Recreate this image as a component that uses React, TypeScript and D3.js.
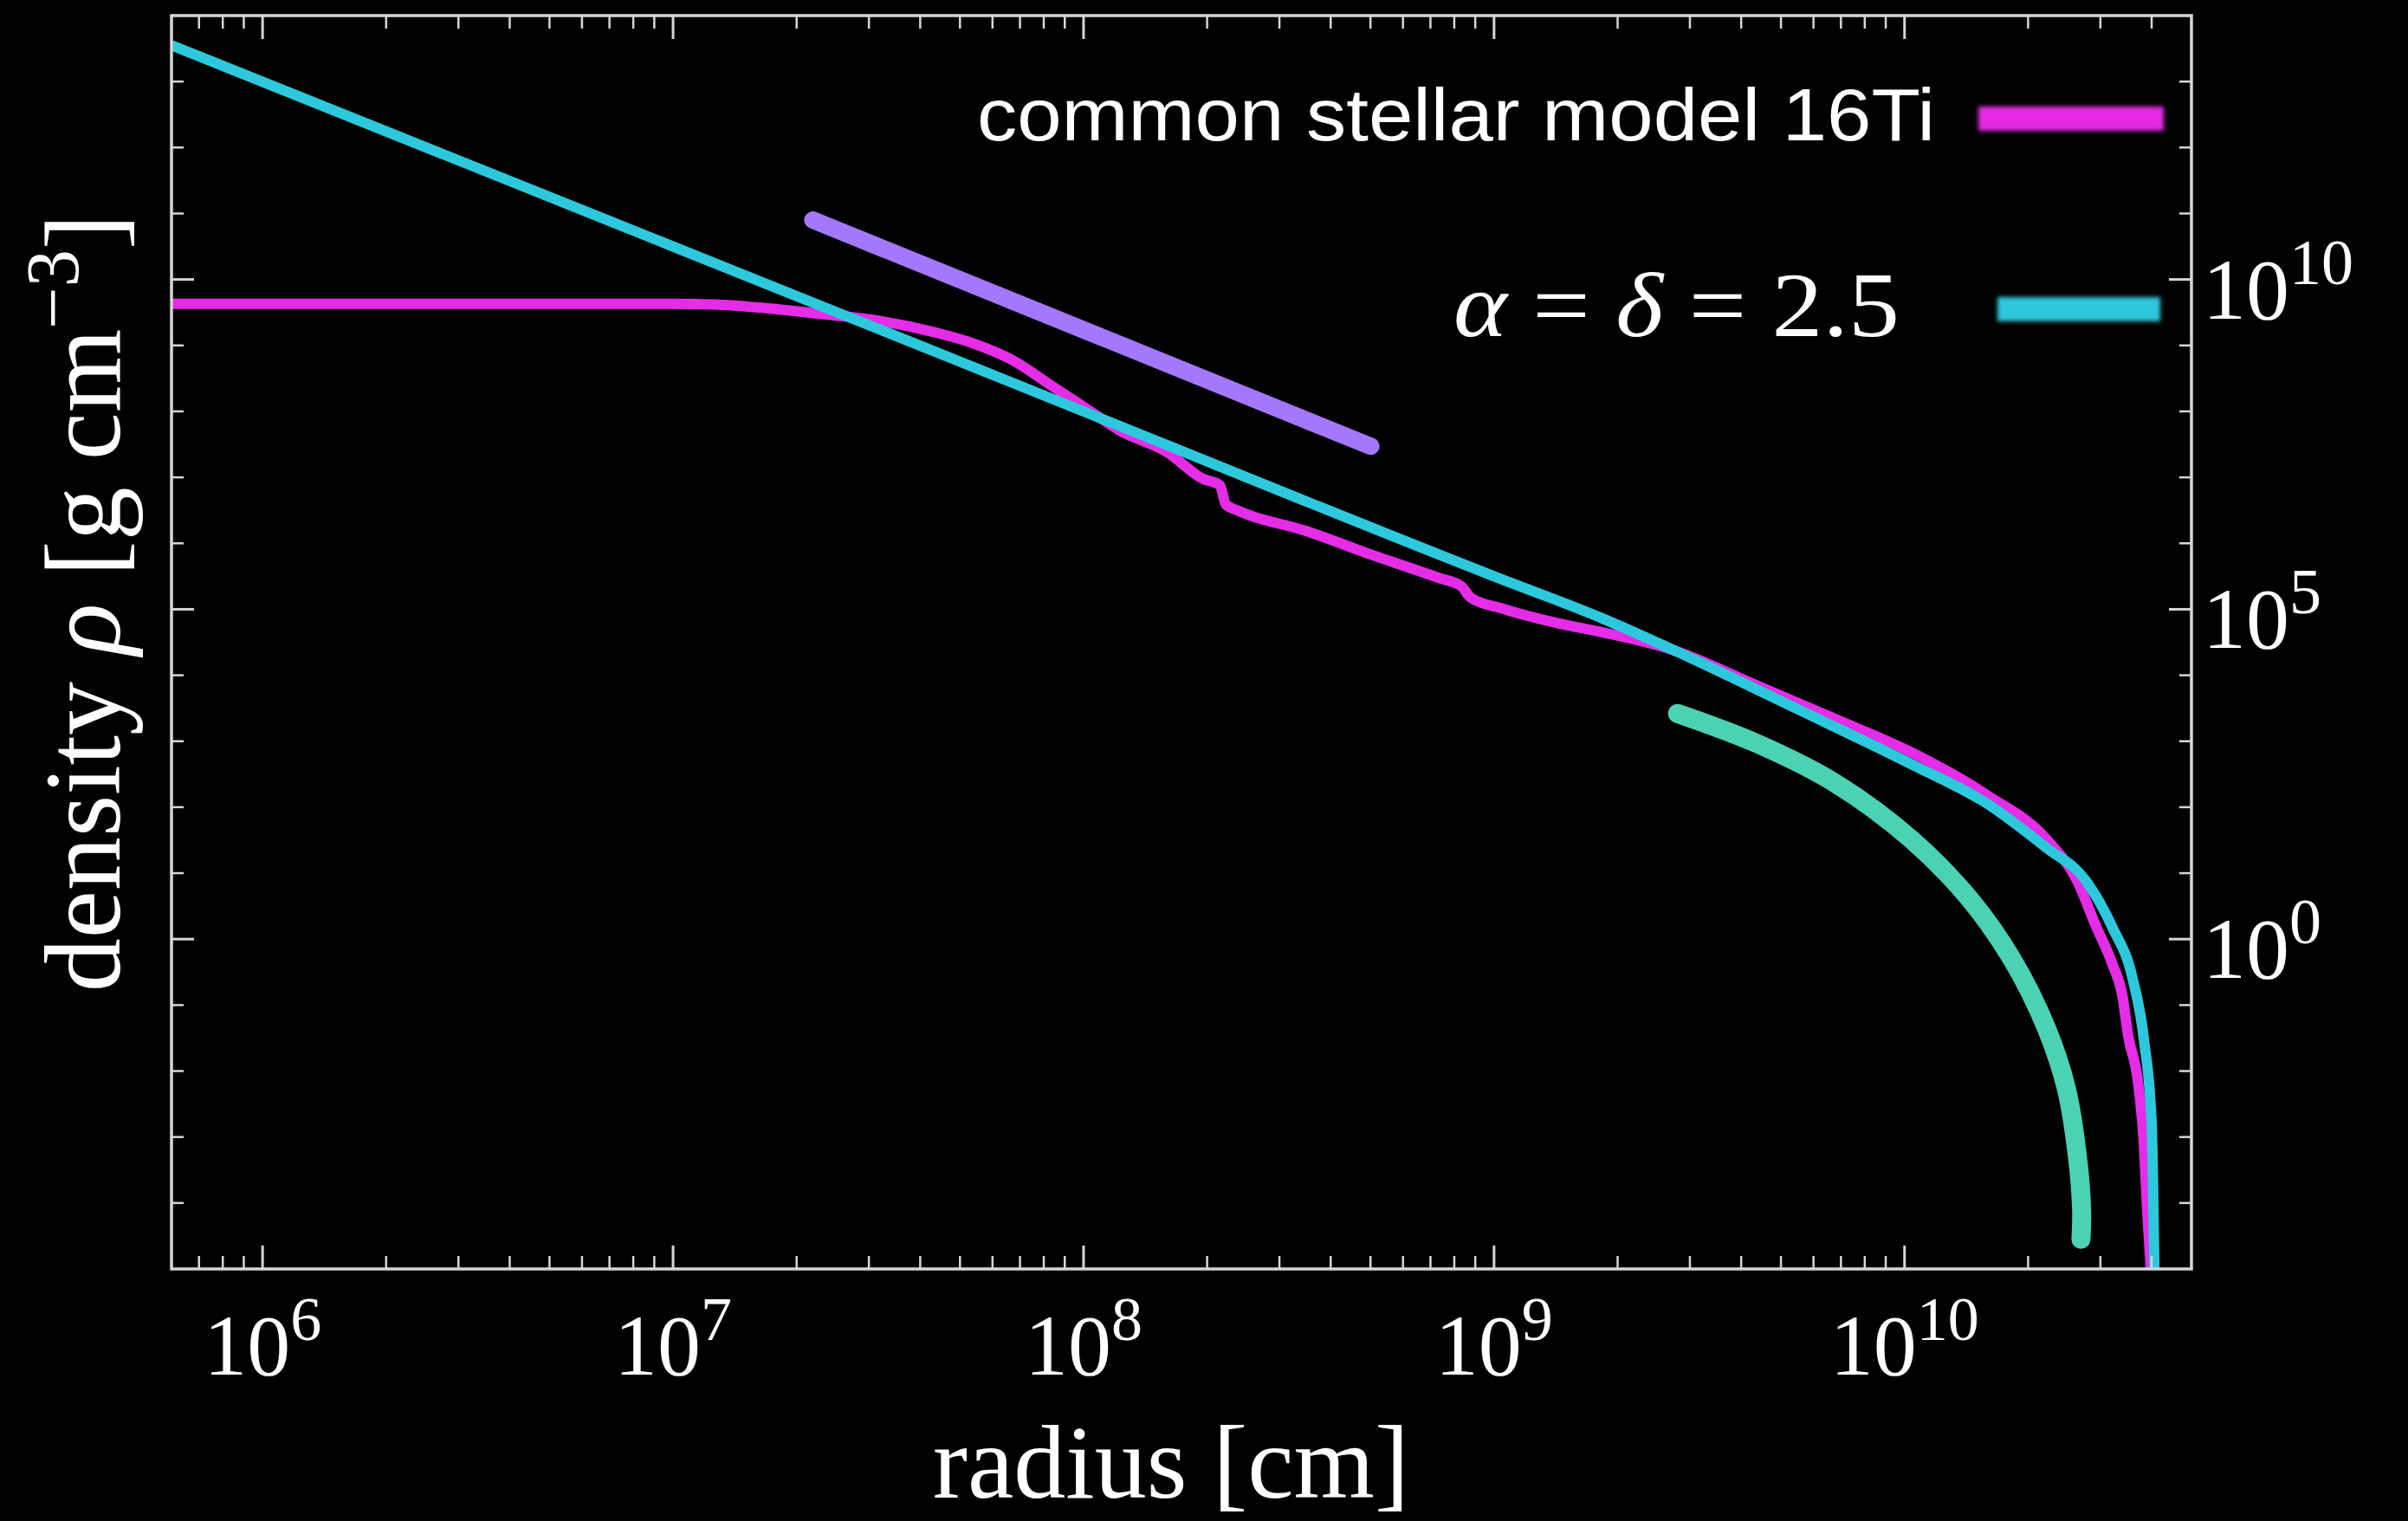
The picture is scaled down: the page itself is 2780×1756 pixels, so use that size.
import React from 'react';
import * as d3 from 'd3';

const W = 2780;
const H = 1756;
const M = { left: 198, right: 2530, top: 18, bottom: 1465 };

// axis domains: radius [cm], density [g cm^-3]
const xDomain = [6e5, 5e10];
const yDomain = [1e-5, 1e14];
const xLabelExps = [6, 7, 8, 9, 10];
const yLabelExps = [0, 5, 10];
const yTickExps = d3.range(-4, 14);

// common stellar model 16Ti
const modelRadius = [6e5, 3.16e6, 1e7, 1.26e7, 1.64e7, 2.27e7, 3.13e7, 4.34e7, 5.4e7, 6.71e7, 8.32e7, 1.04e8, 1.22e8, 1.6e8, 1.95e8, 2.15e8, 2.22e8, 2.39e8, 3.47e8, 5.01e8, 7.3e8, 8.32e8, 8.77e8, 1.05e9, 1.45e9, 1.84e9, 2.71e9, 4.39e9, 6.76e9, 1.04e10, 1.6e10, 2.22e10, 2.64e10, 2.92e10, 3.21e10, 3.39e10, 3.51e10, 3.7e10, 3.83e10, 3.9e10, 3.98e10];
const modelDensity = [4.27e9, 4.27e9, 4.27e9, 4.17e9, 3.72e9, 3.02e9, 2.4e9, 1.58e9, 1.07e9, 6.0e8, 2.5e8, 1.0e8, 5.2e7, 2.4e7, 9.55e6, 7.59e6, 3.89e6, 3.09e6, 1.55e6, 6.76e5, 3.02e5, 2.24e5, 1.51e5, 1.02e5, 6.03e4, 4.47e4, 2.45e4, 6.92e3, 2.19e3, 676, 148, 32.4, 7.41, 1.62, 0.417, 0.145, 0.033, 7.2e-3, 7.6e-4, 7.8e-5, 1e-5];

// fitted profile, alpha = delta = 2.5
const fitRadius = [6e5, 1e7, 1e8, 1e9, 1.84e9, 2.83e9, 5.43e9, 1.04e10, 1.6e10, 2.22e10, 2.76e10, 3.21e10, 3.59e10, 3.83e10, 4.0e10, 4.04e10, 4.06e10];
const fitDensity = [3.55e13, 3.16e10, 1e8, 3.16e5, 7.24e4, 2.19e4, 3.16e3, 447, 110, 24, 7.8, 1.5, 0.26, 0.03, 1.58e-3, 7.76e-5, 1e-5];

// hand-drawn guides
const slopeRadius = [2.19e7, 5.01e8];
const slopeDensity = [7.94e10, 2.95e7];
const cutoffRadius = [2.8e9, 4.39e9, 6.76e9, 1.04e10, 1.44e10, 1.83e10, 2.22e10, 2.48e10, 2.64e10, 2.7e10, 2.69e10];
const cutoffDensity = [2.63e3, 912, 234, 32.4, 4.07, 0.49, 0.0437, 5.37e-3, 4.79e-4, 7.76e-5, 2.82e-5];

const C = {
  model: '#e52ce6',
  fit: '#2ec8dc',
  slope: '#a478fc',
  cutoff: '#4bd2b2',
  frame: '#d6d6d6',
};
const SERIF = "'Liberation Serif', 'Times New Roman', serif";
const SANS = "'Liberation Sans', Arial, sans-serif";

const zip = (a: number[], b: number[]) => a.map((v, i) => [v, b[i]] as [number, number]);

export default function App() {
  const x = d3.scaleLog().domain(xDomain).range([M.left, M.right]);
  const y = d3.scaleLog().domain(yDomain).range([M.bottom, M.top]);

  const line = (curve: d3.CurveFactory) =>
    d3.line<[number, number]>().x(d => x(d[0])).y(d => y(d[1])).curve(curve);

  const xTicks = x.ticks().filter(v => v > xDomain[0] && v < xDomain[1]);
  const isMajorX = (v: number) => Math.abs(Math.log10(v) - Math.round(Math.log10(v))) < 1e-9;

  return (
    <>
      <style>{`body{margin:0;background:#000}`}</style>
      <svg width={W} height={H} style={{ display: 'block', background: '#000' }}>
        <defs>
          <clipPath id="plot">
            <rect x={M.left} y={M.top} width={M.right - M.left} height={M.bottom - M.top} />
          </clipPath>
          <filter id="soft" x="-20%" y="-60%" width="140%" height="220%">
            <feGaussianBlur stdDeviation="2.5" />
          </filter>
        </defs>

        <g clipPath="url(#plot)" fill="none" strokeLinejoin="round">
          <path d={line(d3.curveMonotoneX)(zip(modelRadius, modelDensity)) || ''} stroke={C.model} strokeWidth={12} />
          <path d={line(d3.curveMonotoneX)(zip(fitRadius, fitDensity)) || ''} stroke={C.fit} strokeWidth={12} />
          <path d={line(d3.curveLinear)(zip(slopeRadius, slopeDensity)) || ''} stroke={C.slope} strokeWidth={20} strokeLinecap="round" />
          <path d={line(d3.curveCatmullRom.alpha(0.5))(zip(cutoffRadius, cutoffDensity)) || ''} stroke={C.cutoff} strokeWidth={22} strokeLinecap="round" />
        </g>

        {/* frame and ticks */}
        <rect x={M.left} y={M.top} width={M.right - M.left} height={M.bottom - M.top} fill="none" stroke={C.frame} strokeWidth={3.5} />
        <g stroke={C.frame}>
          {xTicks.map(v => {
            const len = isMajorX(v) ? 27 : 15;
            const px = x(v);
            return (
              <g key={'x' + v} strokeWidth={isMajorX(v) ? 3 : 2.5}>
                <line x1={px} x2={px} y1={M.bottom} y2={M.bottom - len} />
                <line x1={px} x2={px} y1={M.top} y2={M.top + len} />
              </g>
            );
          })}
          {yTickExps.map(e => {
            const major = e % 5 === 0;
            const len = major ? 26 : 14;
            const py = y(Math.pow(10, e));
            return (
              <g key={'y' + e} strokeWidth={major ? 3 : 2.5}>
                <line x1={M.left} x2={M.left + len} y1={py} y2={py} />
                <line x1={M.right} x2={M.right - len} y1={py} y2={py} />
              </g>
            );
          })}
        </g>

        {/* tick labels */}
        <g fill="#fff" fontFamily={SERIF}>
          {xLabelExps.map(e => (
            <text key={'xl' + e} x={x(Math.pow(10, e))} y={1587} fontSize={100} textAnchor="middle">
              10<tspan dy={-40} fontSize={72}>{e}</tspan>
            </text>
          ))}
          {yLabelExps.map(e => (
            <text key={'yl' + e} x={2543} y={y(Math.pow(10, e)) + 45} fontSize={100}>
              10<tspan dy={-40} fontSize={74}>{e}</tspan>
            </text>
          ))}
        </g>

        {/* axis titles */}
        <g fill="#fff" fontFamily={SERIF}>
          <text x={1352} y={1729} fontSize={120} textAnchor="middle">radius [cm]</text>
          <text transform="translate(138,696) rotate(-90)" fontSize={124} textAnchor="middle">
            density <tspan fontStyle="italic">ρ</tspan> [g cm<tspan dy={-48} fontSize={86}>−3</tspan><tspan dy={48}>]</tspan>
          </text>
        </g>

        {/* legend */}
        <text x={2234} y={162} fill="#fff" fontFamily={SANS} fontSize={86} textAnchor="end" textLength={1106} lengthAdjust="spacingAndGlyphs">
          common stellar model 16Ti
        </text>
        <rect x={2284} y={123} width={214} height={28} fill={C.model} filter="url(#soft)" />
        <text x={1678} y={388} fill="#fff" fontFamily={SERIF} fontSize={106} textLength={515} lengthAdjust="spacingAndGlyphs">
          <tspan fontStyle="italic">α</tspan> = <tspan fontStyle="italic">δ</tspan> = 2.5
        </text>
        <rect x={2306} y={343} width={188} height={28} fill={C.fit} filter="url(#soft)" />
      </svg>
    </>
  );
}
